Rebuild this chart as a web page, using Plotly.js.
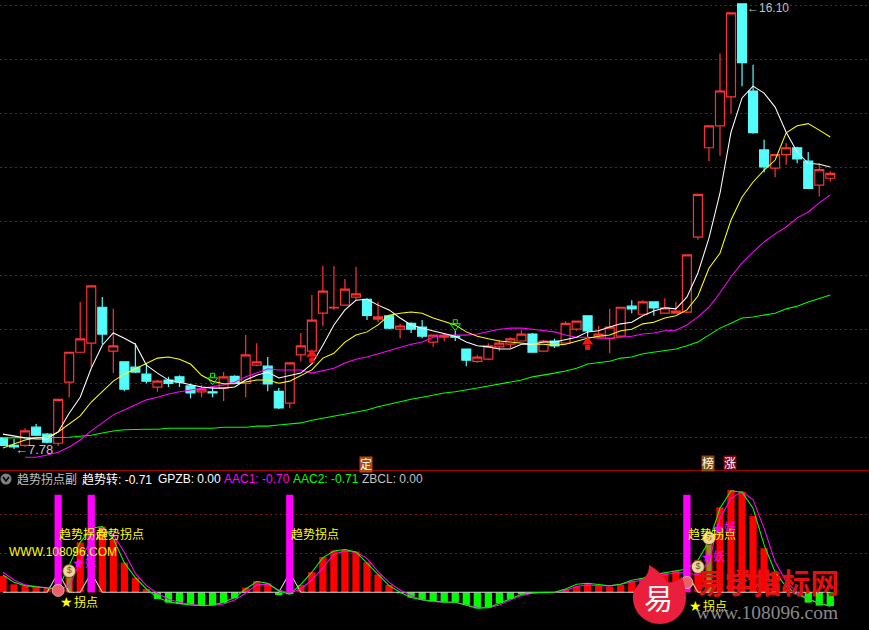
<!DOCTYPE html>
<html><head><meta charset="utf-8">
<script src="https://cdn.plot.ly/plotly-3.0.1.min.js"></script>
<style>html,body{margin:0;padding:0;background:#000;overflow:hidden}#c{width:869px;height:630px}</style>
</head><body><div id="c"></div>
<script>
const open_ = [7.99,7.85,7.85,8.19,8.06,7.89,9.03,9.59,9.76,10.43,9.61,9.41,9.31,9.18,8.94,9.07,9.13,8.96,8.85,8.85,8.92,9.14,9.01,9.35,9.33,8.86,8.64,9.54,9.61,10.32,10.42,10.47,10.62,10.58,10.21,10.27,10.02,10.13,10.06,9.78,9.87,9.89,9.65,9.42,9.46,9.69,9.74,9.80,9.93,9.61,9.80,9.76,10.02,10.27,9.87,9.85,9.89,10.45,10.30,10.53,10.32,10.32,10.34,11.74,13.41,13.82,14.36,16.10,14.47,13.37,13.03,13.28,13.41,13.16,12.71,12.84];
const high_ = [8.00,7.97,8.17,8.25,8.08,8.71,9.59,10.53,10.83,10.62,10.40,9.42,9.76,9.39,9.07,9.13,9.16,9.00,8.98,8.94,9.22,9.16,9.91,9.76,9.50,8.92,9.39,9.95,10.66,11.20,11.20,10.96,11.18,10.60,10.53,10.27,10.12,10.15,10.19,9.91,9.95,9.99,9.65,9.54,9.76,9.82,9.87,10.00,9.95,9.82,9.84,10.17,10.17,10.27,10.08,10.40,10.43,10.56,10.56,10.53,10.60,10.53,11.41,12.54,13.82,15.17,15.93,16.10,14.96,13.56,13.28,13.50,13.43,13.33,13.12,12.97];
const low_ = [7.84,7.78,7.82,8.02,7.89,7.84,8.75,9.59,9.31,9.74,9.20,8.86,9.20,9.01,8.85,8.94,8.94,8.73,8.75,8.75,8.68,9.01,8.75,9.33,8.86,8.53,8.55,9.42,9.61,10.08,10.38,10.47,10.56,10.19,10.15,10.02,9.85,9.95,9.85,9.69,9.80,9.80,9.33,9.39,9.44,9.61,9.67,9.80,9.59,9.61,9.67,9.76,9.99,9.85,9.85,9.57,9.87,10.32,10.30,10.27,10.32,10.32,10.32,11.69,13.16,13.26,14.06,14.56,13.67,12.95,12.86,13.09,13.12,12.65,12.50,12.78];
const close_ = [7.85,7.82,8.12,8.04,7.91,8.71,9.59,9.84,10.83,9.93,9.71,8.90,9.22,9.05,9.05,9.01,9.03,8.83,8.90,8.83,9.13,9.01,9.54,9.41,9.00,8.55,9.39,9.71,10.19,10.73,10.43,10.77,10.68,10.28,10.25,10.04,10.08,10.02,9.89,9.91,9.91,9.87,9.44,9.50,9.71,9.76,9.84,9.93,9.59,9.80,9.71,10.13,10.17,9.99,9.93,10.06,10.43,10.40,10.53,10.42,10.42,10.36,11.41,12.54,13.82,14.47,15.93,15.00,13.69,13.05,13.28,13.41,13.20,12.65,13.00,12.93];
const ma5 = [8.06,8.02,7.99,7.97,7.97,8.10,8.45,8.75,9.29,9.72,9.95,9.85,9.74,9.35,9.20,9.07,9.03,8.98,8.94,8.92,8.92,8.94,9.07,9.16,9.22,9.11,9.16,9.20,9.37,9.72,10.10,10.38,10.56,10.58,10.47,10.38,10.23,10.10,10.04,9.99,9.95,9.89,9.78,9.71,9.69,9.65,9.65,9.74,9.74,9.78,9.78,9.82,9.87,9.97,9.99,10.06,10.12,10.15,10.27,10.36,10.42,10.40,10.62,11.07,11.72,12.56,13.70,14.34,14.56,14.43,14.17,13.70,13.33,13.12,13.10,13.05];
const ma10 = [7.80,7.87,7.95,7.99,8.00,8.10,8.25,8.40,8.66,8.85,9.05,9.18,9.28,9.39,9.48,9.50,9.46,9.37,9.16,9.05,9.00,9.00,9.03,9.07,9.07,9.01,9.05,9.16,9.26,9.48,9.57,9.78,9.91,9.97,10.10,10.28,10.32,10.34,10.32,10.23,10.17,10.10,9.97,9.89,9.84,9.80,9.78,9.76,9.74,9.74,9.72,9.74,9.80,9.85,9.89,9.91,9.99,10.02,10.12,10.15,10.23,10.27,10.38,10.64,11.16,11.44,12.06,12.49,12.77,12.99,13.18,13.69,13.82,13.86,13.74,13.61];
const ma20 = [null,null,7.63,7.63,7.67,7.72,7.82,7.95,8.12,8.27,8.42,8.51,8.60,8.70,8.75,8.81,8.85,8.88,8.92,8.94,8.98,9.03,9.13,9.20,9.28,9.26,9.26,9.26,9.20,9.24,9.29,9.39,9.46,9.50,9.56,9.61,9.67,9.74,9.78,9.87,9.91,9.91,9.91,9.93,9.97,10.02,10.04,10.04,10.02,9.99,9.97,9.91,9.87,9.87,9.85,9.85,9.87,9.89,9.93,9.95,9.99,10.00,10.10,10.25,10.43,10.70,11.00,11.26,11.46,11.65,11.80,11.93,12.10,12.21,12.38,12.53];
const ma60 = [7.99,7.99,7.99,7.99,7.99,7.99,8.00,8.02,8.04,8.08,8.12,8.14,8.15,8.15,8.15,8.17,8.17,8.17,8.17,8.17,8.19,8.19,8.19,8.21,8.21,8.23,8.25,8.27,8.32,8.36,8.40,8.43,8.47,8.51,8.57,8.62,8.66,8.71,8.75,8.79,8.83,8.85,8.88,8.92,8.96,9.00,9.03,9.07,9.13,9.16,9.20,9.24,9.29,9.37,9.39,9.42,9.48,9.50,9.56,9.59,9.61,9.65,9.71,9.78,9.91,10.04,10.13,10.23,10.25,10.28,10.32,10.40,10.45,10.53,10.60,10.66];
const trendTurn = [0.84,0.41,0.34,0.29,0.24,0.17,1.40,2.56,3.28,3.37,2.74,1.52,0.75,0.17,-0.34,-0.53,-0.60,-0.65,-0.68,-0.65,-0.55,-0.31,0.24,0.58,0.46,-0.14,-0.10,0.38,1.03,1.81,2.14,2.19,2.09,1.54,0.92,0.38,-0.05,-0.27,-0.38,-0.46,-0.51,-0.51,-0.65,-0.82,-0.79,-0.56,-0.34,-0.10,-0.03,0,0,0.17,0.29,0.41,0.34,0.29,0.38,0.58,0.72,0.85,1.00,1.10,1.20,1.66,2.50,4.36,5.25,5.16,3.91,2.26,1.06,0.20,-0.10,-0.53,-0.68,-0.71];
const aac2 = [0.89,0.51,0.34,0.29,0.22,0.17,1.40,2.56,3.28,3.37,2.74,1.52,0.75,0.17,-0.27,-0.48,-0.58,-0.65,-0.68,-0.65,-0.51,-0.27,0.17,0.55,0.46,0.07,-0.10,0.41,1.03,1.78,2.12,2.19,2.07,1.49,0.89,0.34,0,-0.27,-0.38,-0.46,-0.51,-0.51,-0.65,-0.82,-0.79,-0.56,-0.34,-0.10,-0.03,0,0,0.17,0.41,0.46,0.41,0.34,0.41,0.62,0.72,0.90,1.00,1.10,1.20,1.66,2.60,4.31,5.21,5.13,4.31,2.43,1.03,0.29,-0.10,-0.34,-0.56,-0.71];
const aac1 = [1.03,0.63,0.38,0.29,0.22,0.17,0.29,1.57,2.74,3.28,2.94,2.05,0.97,0.34,-0.05,-0.36,-0.51,-0.62,-0.68,-0.67,-0.60,-0.39,-0.05,0.38,0.41,0.12,-0.05,0.17,0.63,1.26,1.95,2.12,2.05,1.74,1.06,0.51,0.12,-0.17,-0.39,-0.48,-0.50,-0.51,-0.65,-0.77,-0.79,-0.65,-0.39,-0.17,-0.05,0,0,0.10,0.30,0.38,0.34,0.33,0.41,0.51,0.63,0.75,0.90,1.00,1.00,0.89,1.57,3.79,4.82,5.16,4.74,3.28,1.57,0.55,0,-0.34,-0.56,-0.70];
const zbcl = [0,0,0,0,0,1,0,0,1,0,0,0,0,0,0,0,0,0,0,0,0,0,0,0,0,0,1,0,0,0,0,0,0,0,0,0,0,0,0,0,0,0,0,0,0,0,0,0,0,0,0,0,0,0,0,0,0,0,0,0,0,0,1,0,0,0,0,0,0,0,0,0,0,0,0,0];
const turnIdx = [5,8,26,62];
const turnHeight = 5;
const index = open_.map((_, i) => i);
const buyIdx = [28,53], buyHead = [9.55,9.78], buyStem = [9.44,9.68];
const sellIdx = [19,41], sellStem = [9.16,10.16], sellHead = [9.07,10.08];
const bagIdx = [6,63,64], bagVal = [1.09,1.30,2.78];
const ballIdx = [5,62], ballVal = [0.1,0.5];

const gridColor = '#7a1818';
const cn = '"Liberation Sans","Noto Sans CJK SC",sans-serif';
const pX = x => x/869, pY = y => 1-y/630;
const P = (x,y) => pX(x).toFixed(5)+' '+pY(y).toFixed(5);
const T = (text,x,y,color,size,o={}) => Object.assign({text,x:pX(x),y:pY(y),xref:'paper',yref:'paper',showarrow:false,xanchor:'left',yanchor:'middle',borderpad:0,font:{color,size,family:cn}},o);
const sticks = (xs,ys) => {const X=[],Y=[];xs.forEach((x,k)=>{X.push(x,x,null);Y.push(0,ys[k],null)});return {x:X,y:Y}};
const ln = (y,color,axis='y') => ({type:'scatter',mode:'lines',x:index,y,yaxis:axis,line:{color,width:1.05,shape:'linear'},connectgaps:false,hoverinfo:'skip'});

const traces = [
 {type:'candlestick',x:index,open:open_,high:high_,low:low_,close:close_,whiskerwidth:0,hoverinfo:'skip',
  increasing:{line:{color:'#ff3232',width:1.2},fillcolor:'#000'},
  decreasing:{line:{color:'#54fcfc',width:1.2},fillcolor:'#54fcfc'}},
 ln(ma60,'#00ff00'),ln(ma20,'#ff00ff'),ln(ma10,'#ffff00'),ln(ma5,'#ffffff'),
 {type:'scatter',mode:'markers',x:buyIdx,y:buyStem,marker:{symbol:'square',size:5,color:'#ff1010',line:{width:0}},hoverinfo:'skip'},
 {type:'scatter',mode:'markers',x:buyIdx,y:buyHead,marker:{symbol:'triangle-up',size:10,color:'#ff1010',line:{width:0}},hoverinfo:'skip'},
 {type:'scatter',mode:'markers',x:sellIdx,y:sellStem,marker:{symbol:'square-open',size:4,color:'#00ff00',line:{color:'#00ff00',width:1}},hoverinfo:'skip'},
 {type:'scatter',mode:'markers',x:sellIdx,y:sellHead,marker:{symbol:'triangle-down-open',size:9,color:'#00ff00',line:{color:'#00ff00',width:1}},hoverinfo:'skip'},
 {type:'bar',x:index,y:trendTurn,yaxis:'y2',width:0.66,marker:{color:trendTurn.map(v=>v>=0?'#ff0000':'#00ff00'),line:{width:0}},hoverinfo:'skip'},
 Object.assign({type:'scatter',mode:'lines',yaxis:'y2',line:{color:'#8a8a20',width:5},hoverinfo:'skip'},sticks([6,64],[1.0,2.6])),
 ln(zbcl,'#d8d8d8','y2'),ln(aac1,'#ff00ff','y2'),ln(aac2,'#00ff00','y2'),
 Object.assign({type:'scatter',mode:'lines',yaxis:'y2',line:{color:'#ff00ff',width:7.3},hoverinfo:'skip'},sticks(turnIdx,turnIdx.map(()=>turnHeight))),
 {type:'scatter',mode:'markers',x:ballIdx,y:ballVal,yaxis:'y2',marker:{size:12,color:'#e8606a',line:{color:'#f0b0a8',width:1}},hoverinfo:'skip'},
 {type:'scatter',mode:'markers+text',x:bagIdx,y:bagVal,yaxis:'y2',text:bagIdx.map(()=>'$'),textposition:'middle center',textfont:{color:'#7a5010',size:9,family:'Liberation Sans'},marker:{size:13,color:'#ecd79a',line:{color:'#6a4a10',width:1}},hoverinfo:'skip'}
];

const flame = 'M '+P(633,598)+' C '+P(633,582)+' '+P(650,580)+' '+P(649,565)+' C '+P(658,570)+' '+P(664,577)+' '+P(667,582)+' C '+P(673,583)+' '+P(678,581)+' '+P(682,577)+' C '+P(685,585)+' '+P(686,592)+' '+P(686,598)+' C '+P(686,612)+' '+P(675,624)+' '+P(660,624)+' C '+P(645,624)+' '+P(633,612)+' '+P(633,598)+' Z';

const layout = {
 width:869,height:630,margin:{l:0,r:0,t:0,b:0},paper_bgcolor:'#000',plot_bgcolor:'#000',showlegend:false,
 barmode:'overlay',boxgap:0.1,boxgroupgap:0.1,
 xaxis:{range:[-0.272,78.51],showgrid:false,zeroline:false,showline:false,showticklabels:false,ticks:'',rangeslider:{visible:false},anchor:'y2',fixedrange:true},
 yaxis:{domain:[160/630,1],range:[7.39,16.17],tickmode:'linear',tick0:8.00,dtick:1.009,showticklabels:false,ticks:'',zeroline:false,showline:false,showgrid:true,gridcolor:gridColor,griddash:'1.5px,3.5px',gridwidth:1,fixedrange:true},
 yaxis2:{domain:[0,159/630],range:[-1.933,6.22],tickmode:'array',tickvals:[2,4],showticklabels:false,ticks:'',zeroline:false,showline:false,showgrid:true,gridcolor:gridColor,griddash:'1.5px,3.5px',gridwidth:1,fixedrange:true},
 shapes:[
  {type:'line',xref:'paper',yref:'paper',x0:0,x1:1,y0:pY(470.5),y1:pY(470.5),line:{color:'#a00000',width:1}},
  {type:'circle',xref:'paper',yref:'paper',x0:pX(0.5),x1:pX(11.5),y0:pY(473.5),y1:pY(484.5),fillcolor:'#808080',line:{width:0}},
  {type:'path',xref:'paper',yref:'paper',path:'M '+P(3,477)+' L '+P(6,481)+' L '+P(9,477),line:{color:'#000',width:1.5}},
  {type:'path',xref:'paper',yref:'paper',path:flame,fillcolor:'#ea1f3d',line:{width:0},layer:'above'}
 ],
 annotations:[
  {text:'←7.78',x:1,y:7.78,xref:'x',yref:'y',showarrow:false,xanchor:'left',yanchor:'middle',borderpad:0,font:{color:'#c0c0c0',size:13,family:'Liberation Sans'}},
  T('←16.10',746,0,'#c0c0c0',12,{yanchor:'top',font:{color:'#c0c0c0',size:12,family:'Liberation Sans'}}),
  T('定',366,464,'#ffffff',12,{xanchor:'center',bgcolor:'#b5480f'}),
  T('榜',708,463,'#ffffff',12,{xanchor:'center',bgcolor:'#8a4a08'}),
  T('涨',730,463,'#ffffff',12,{xanchor:'center',bgcolor:'#7c0818'}),
  T('趋势拐点副',16,479,'#c0c0c0',12),
  T('趋势转: -0.71',81,479,'#ffffff',12),
  T('GPZB: 0.00',157,479,'#ffffff',12),
  T('AAC1: -0.70',223,479,'#ff00ff',12),
  T('AAC2: -0.71',292,479,'#00ff00',12),
  T('ZBCL: 0.00',361,479,'#c0c0c0',12),
  T('WWW.108096.COM',8,552,'#ffff00',12),
  T('趋势拐点',58,534,'#ffff00',12),
  T('趋势拐点',95,534,'#ffff00',12),
  T('趋势拐点',290,534,'#ffff00',12),
  T('趋势拐点',687,534,'#ffff00',12),
  T('★',59,602,'#ffff00',14,{font:{color:'#ffff00',size:14,family:'DejaVu Sans'}}),
  T('拐点',73,602,'#ffff00',12),
  T('★',688,606,'#ffff00',14,{font:{color:'#ffff00',size:14,family:'DejaVu Sans'}}),
  T('拐点',702,606,'#ffff00',12),
  T('★',71,563,'#ff00ff',14,{font:{color:'#ff00ff',size:14,family:'DejaVu Sans'}}),
  T('妖',84,563,'#ff00ff',12),
  T('★',700,557,'#ff00ff',14,{font:{color:'#ff00ff',size:14,family:'DejaVu Sans'}}),
  T('妖',712,557,'#ff00ff',12),
  T('★',711,528,'#ff00ff',14,{font:{color:'#ff00ff',size:14,family:'DejaVu Sans'}}),
  T('妖',723,528,'#ff00ff',12),
  T('易',658,597,'#ffffff',29,{xanchor:'center',font:{color:'#ffffff',size:29,family:'"Noto Sans CJK SC"'}}),
  T('易学指标网',695,581,'#e41010',28.6,{font:{color:'#e41010',size:28.6,family:'"Noto Sans CJK SC"',weight:700}}),
  T('www.108096.com',695,612,'#8a8a8a',19.4,{font:{color:'#8a8a8a',size:19.4,family:'"Liberation Serif"'}})
 ]
};
Plotly.newPlot('c',traces,layout,{staticPlot:true,displayModeBar:false});
</script></body></html>
